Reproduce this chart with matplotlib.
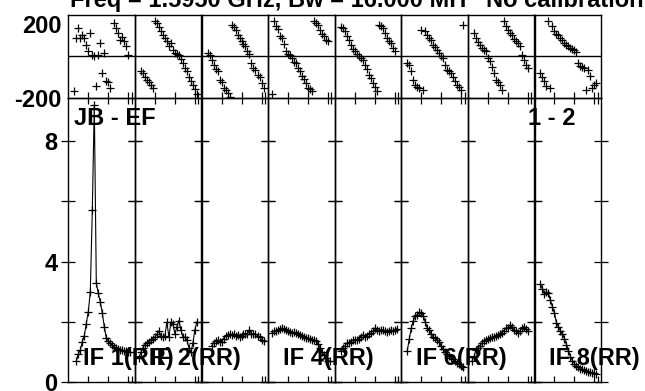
import numpy as np
import matplotlib
matplotlib.use('Agg')
import matplotlib.pyplot as plt

plt.rcParams['font.family'] = ['Liberation Sans', 'DejaVu Sans']
plt.rcParams['font.weight'] = 'bold'

# channel of the first point of each IF, then one value per channel
amp_start = [4, 2, 5, 2, 3, 3, 2, 3]
amp_if1 = [0.7, 0.95, 1.07, 1.35, 1.55, 1.95, 2.35, 3.0, 5.7, 9.2, 3.3, 2.95, 2.67, 2.3,
           1.85, 1.46, 1.38, 1.3, 1.24, 1.18, 1.13, 1.1, 1.07, 1.06, 1.05, 1.03, 1.02, 1.0]
amp_if2 = [0.8, 1.0, 1.15, 1.25, 1.3, 1.35, 1.4, 1.45, 1.5, 1.6, 1.7, 1.55, 1.5, 1.55, 2.0,
           1.5, 2.0, 1.95, 1.6, 1.85, 2.05, 1.75, 1.5, 1.5, 1.4, 1.15, 1.0, 1.3, 1.75, 2.0]
amp_if3 = [1.2, 1.3, 1.38, 1.4, 1.35, 1.35, 1.45, 1.55, 1.58, 1.6, 1.58, 1.6, 1.55, 1.58,
           1.52, 1.55, 1.6, 1.62, 1.6, 1.75, 1.6, 1.62, 1.6, 1.55, 1.5, 1.42, 1.38]
amp_if4 = [1.65, 1.7, 1.72, 1.74, 1.78, 1.8, 1.78, 1.74, 1.7, 1.66, 1.63, 1.66, 1.65, 1.62,
           1.58, 1.55, 1.5, 1.48, 1.46, 1.43, 1.41, 1.4, 1.38, 1.28, 1.15, 1.0, 0.9, 0.8,
           0.72, 0.7]
amp_if5 = [1.05, 1.15, 1.2, 1.3, 1.32, 1.35, 1.4, 1.42, 1.4, 1.45, 1.52, 1.57, 1.5, 1.55,
           1.6, 1.63, 1.7, 1.79, 1.75, 1.72, 1.74, 1.75, 1.7, 1.68, 1.72, 1.74, 1.7, 1.75,
           1.78]
amp_if6 = [1.05, 1.45, 1.8, 2.05, 2.2, 2.25, 2.32, 2.3, 2.2, 2.0, 1.8, 1.74, 1.6, 1.5, 1.46,
           1.4, 1.35, 1.2, 1.1, 1.0, 0.95, 0.88, 0.82, 0.78, 0.7, 0.65, 0.6, 0.55, 0.52]
amp_if7 = [0.7, 0.85, 1.07, 1.15, 1.22, 1.3, 1.38, 1.42, 1.45, 1.48, 1.5, 1.52, 1.55, 1.58,
           1.62, 1.65, 1.72, 1.8, 1.82, 1.9, 1.85, 1.75, 1.7, 1.65, 1.7, 1.8, 1.85, 1.78, 1.72]
amp_if8 = [3.25, 3.1, 2.92, 3.0, 2.95, 2.72, 2.5, 2.3, 1.96, 1.85, 1.7, 1.6, 1.45, 1.25,
           1.05, 0.85, 0.72, 0.62, 0.55, 0.5, 0.46, 0.43, 0.41, 0.38, 0.36, 0.34, 0.32, 0.3,
           0.27]

phase_start = [3, 3, 3, 2, 3, 3, 3, 3]
phase_if1 = [-169, 89, 137, 89, 105, 90, 57, 24, 113, 8, 0, -145, 5, 65, -80, 16, -121,
             -125, -153, np.nan, 162, 137, 113, 81, 95, 73, 48, 8]
phase_if2 = [-73, -80, -100, -113, -125, -137, -155, 169, 162, 140, 125, 105, 88, 73, 50,
             65, 32, 16, 12, 8, -15, -32, -55, -73, -100, -121, -137, -160, -180]
phase_if3 = [16, 5, -16, -40, -60, -73, -113, -125, -153, -165, -177, -195, 153, 140, 129,
             105, 90, 73, 60, 48, 24, 10, -32, -56, -64, -89, -100, -130, -153]
phase_if4 = [-180, 169, 145, 130, 100, 89, 60, 24, 12, 8, -10, -25, -32, -55, -73, -97,
             -110, -129, -153, -160, -169, 169, 160, 153, 129, 110, 97, 80, 73]
phase_if5 = [140, 137, 121, 100, 81, 57, 35, 24, 10, 0, -10, -16, -40, -60, -89, -105, -130,
             -150, -169, 153, 145, 137, 115, 89, 75, 65, 40, 24]
phase_if6 = [-32, -40, -73, -113, -137, -150, -153, 129, -161, 121, 105, 90, 81, 57, 45, 32,
             16, 0, -8, -40, -64, -72, -80, -100, -121, -137, -150, -161, 153]
phase_if7 = [113, 89, 70, 57, 40, 30, 24, -8, -24, -50, -80, -113, -125, -137, -161, 169,
             145, 129, 115, 105, 85, 75, 65, 48, 8, -16, -40, -56]
phase_if8 = [-80, -100, -121, -145, 169, -153, 145, 121, 110, 105, 90, 81, 65, 55, 48, 40,
             35, 32, 20, -32, -48, -52, -56, -161, -64, -97, -153, -140, -129]

amps = [amp_if1, amp_if2, amp_if3, amp_if4, amp_if5, amp_if6, amp_if7, amp_if8]
phases = [phase_if1, phase_if2, phase_if3, phase_if4, phase_if5, phase_if6, phase_if7, phase_if8]
if_labels = {0: 'IF 1(RR)', 1: 'IF 2(RR)', 3: 'IF 4(RR)', 5: 'IF 6(RR)', 7: 'IF 8(RR)'}

W, H = 645, 391
fig = plt.figure(figsize=(W / 100, H / 100), dpi=100)

x0, pw = 68.3, 66.6
ph_top, split, amp_bot = 15.0, 97.7, 382.4
fs = 17

for i in range(8):
    left = (x0 + i * pw) / W
    axp = fig.add_axes([left, 1 - split / H, pw / W, (split - ph_top) / H])
    axa = fig.add_axes([left, 1 - amp_bot / H, pw / W, (amp_bot - split) / H])

    # phase panel
    ch = phase_start[i] + np.arange(len(phases[i]))
    axp.plot(ch, phases[i], '+', color='black', ms=6, mew=0.9)
    axp.axhline(0, color='black', lw=1.0)
    axp.set_xlim(0, 33.3)
    axp.set_ylim(-200, 200)
    axp.set_xticks([10, 20, 30, 31.7])
    axp.set_xticklabels([])
    axp.tick_params(axis='x', direction='in', length=4, width=0.9, top=False)
    if i == 0:
        axp.set_yticks([-200, 200])
        axp.set_yticklabels(['-200', '200'], fontsize=fs, fontweight='bold')
        axp.get_yticklabels()[1].set_va('top')
        axp.tick_params(axis='y', length=0, pad=5)
    else:
        axp.set_yticks([])

    # amplitude panel
    ch = amp_start[i] + np.arange(len(amps[i]))
    axa.plot(ch, amps[i], '-', color='black', lw=0.8, marker='+', ms=6, mew=0.9)
    axa.set_xlim(0, 33.3)
    axa.set_ylim(0, 9.44)
    axa.set_xticks([10, 20, 30, 31.7])
    axa.set_xticklabels([])
    axa.tick_params(axis='x', direction='in', length=4, width=0.9, top=True)
    axa.set_yticks([0, 2, 4, 6, 8])
    axa.tick_params(axis='y', direction='inout', length=9.5, width=0.9,
                    left=True, right=True, pad=3)
    if i == 0:
        axa.set_yticklabels(['0', '', '4', '', '8'], fontsize=fs, fontweight='bold')
    else:
        axa.set_yticklabels([])
    if i in if_labels:
        axa.text((x0 + i * pw + 15) / W, 1 - 365 / H, if_labels[i], transform=fig.transFigure,
                 fontsize=fs, fontweight='bold', va='baseline', ha='left')

    for ax in (axp, axa):
        for s in ax.spines.values():
            s.set_linewidth(1.0)
        ax.set_facecolor('none')

fig.text(74 / W, 1 - 107 / H, 'JB - EF', fontsize=fs, fontweight='bold', va='top')
fig.text(528 / W, 1 - 107 / H, '1 - 2', fontsize=fs, fontweight='bold', va='top')
fig.text(70 / W, 1 - 7 / H, 'Freq = 1.5950 GHz, Bw = 16.000 MH', fontsize=fs,
         fontweight='bold', va='baseline')
fig.text(644 / W, 1 - 7 / H, 'No calibration', fontsize=fs, fontweight='bold',
         va='baseline', ha='right')

fig.savefig('out.png', dpi=100)
